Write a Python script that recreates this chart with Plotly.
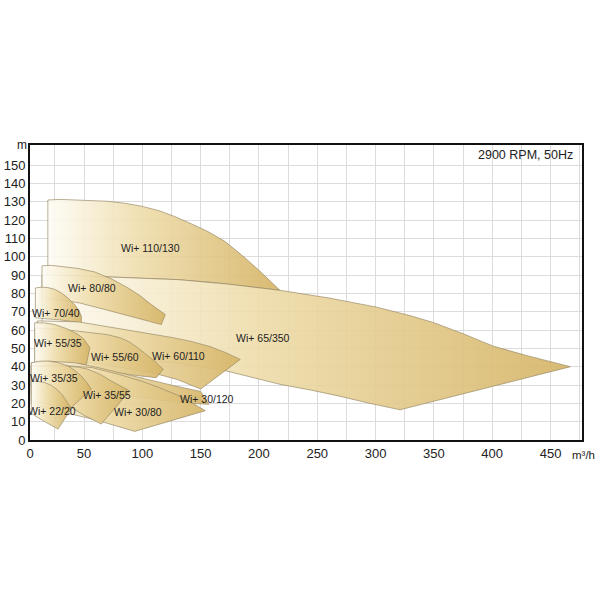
import plotly.graph_objects as go

# ---- pump envelopes (flow m3/h, head m), drawn back to front ----
names = ["Wi+ 110/130", "Wi+ 65/350", "Wi+ 80/80", "Wi+ 70/40", "Wi+ 60/110",
         "Wi+ 55/60", "Wi+ 55/35", "Wi+ 30/120", "Wi+ 30/80", "Wi+ 35/55",
         "Wi+ 35/35", "Wi+ 22/20"]

q_110_130 = [19, 19, 30, 50, 70, 85, 100, 115, 128, 142, 157, 171, 186, 199.5, 210, 218,
             190, 160, 131, 100, 70, 19]
h_110_130 = [89.5, 131, 131.3, 131, 130.3, 129.2, 127.5, 125, 121.9, 118, 113.5, 108.3, 100.5, 92.9, 86.5, 81.7,
             83.8, 86, 87.5, 88.3, 89, 89.5]

q_65_350 = [14, 14, 40, 70, 100, 131, 175, 218, 260, 301, 330, 350, 375, 401, 430, 467,
            321, 295, 270, 245, 218, 195, 172, 150, 130, 80, 14]
h_65_350 = [48, 90, 89.8, 89, 88.4, 87.5, 85, 81.7, 77.5, 72.5, 67.8, 64, 58, 51.2, 46, 40,
            16.5, 20, 23.8, 27.2, 30.4, 34, 37.7, 40, 42, 45, 48]

q_80_80 = [14, 14, 22, 30.5, 45, 59.2, 74, 87.7, 98, 107.7, 114, 119.7,
           116.3, 95, 73.4, 46.3, 30, 14]
h_80_80 = [78, 95.1, 95.3, 94.8, 93.6, 91.7, 87.8, 83, 78.8, 73.9, 71, 68.5,
           63, 66.8, 70.3, 74.8, 76.5, 78]

q_70_40 = [8.3, 8.3, 14, 19, 25, 30.5, 36, 42, 45.5, 47.7, 47.7, 30, 8.3]
h_70_40 = [66.7, 83, 83.4, 83.2, 82.2, 80.3, 77.6, 73.9, 70.8, 67.6, 64, 65.5, 66.7]

q_60_110 = [10, 10, 45, 65, 85, 105, 125, 142, 158, 171, 184,
            150, 130, 107, 85, 64, 10]
h_60_110 = [46, 65, 64.5, 62.4, 60, 58.2, 56, 53.8, 51, 47.8, 44,
            27.8, 33, 37, 39.5, 41.5, 46]

q_55_60 = [8, 8, 30, 55, 70, 81, 89, 96, 104, 111, 118,
           112, 95, 73.4, 40, 8]
h_55_60 = [42, 61, 60.5, 58.5, 57.5, 55.8, 53.5, 50.4, 46.5, 42.8, 38.6,
           34, 35.2, 36.8, 39.5, 42]

q_55_35 = [7.7, 7.7, 16, 25, 35, 45, 50, 53.4, 55, 52, 30, 7.7]
h_55_35 = [42.2, 64, 63.9, 63, 60.8, 57.6, 55, 52.2, 50.4, 41.3, 41.5, 42.2]

q_30_120 = [4.8, 4.8, 20, 42, 64, 85, 107, 128, 150, 157, 140, 125, 100, 80, 4.8]
h_30_120 = [30, 42, 43, 42.2, 39.2, 35.9, 32.6, 29.5, 26.5, 19.5, 20, 21, 23, 25, 30]

q_30_80 = [4.8, 4.8, 30, 57, 80, 100, 115, 130, 142, 154, 93.5, 78, 60, 30, 4.8]
h_30_80 = [20, 40.5, 40.8, 39.5, 35.8, 32, 28.5, 24.5, 20.5, 16, 4.7, 7.5, 11, 15.5, 20]

q_35_55 = [4.8, 4.8, 30, 45, 53.4, 64, 73.4, 81, 89.2, 64.8, 50, 39, 4.8]
h_35_55 = [25, 40, 40.5, 39.8, 38.6, 35.8, 32.2, 29.6, 26.8, 8.7, 13.5, 17.8, 25]

q_35_35 = [4.8, 4.8, 12, 19, 28, 36.3, 42.5, 47.7, 52.5, 56.3, 39.1, 20, 4.8]
h_35_35 = [21.4, 42.2, 43, 43.1, 42.2, 40.4, 37.8, 34.9, 31.3, 27.7, 17.8, 19.5, 21.4]

q_22_20 = [4.8, 4.8, 10, 16, 22, 27, 31.5, 35, 37.5, 38.5, 27.7, 15, 4.8]
h_22_20 = [14.5, 32.2, 32, 31.4, 29.8, 27.5, 24.6, 21.5, 18.8, 16.5, 6, 10.5, 14.5]

# label anchor positions (flow, head)
label_q = [106.7, 203.8, 56.9, 26.3, 130.9, 76.3, 27.7, 155.8, 96.3, 69.7, 24.3, 22.6]
label_h = [104.7, 55.8, 83, 69.4, 45.8, 45.3, 53.1, 22.3, 15.4, 24.6, 33.7, 15.6]

x_tick_vals = [3.7, 50, 100, 150, 200, 250, 300, 350, 400, 450]
x_tick_text = ["0", "50", "100", "150", "200", "250", "300", "350", "400", "450"]
x_grid_vals = list(range(25, 476, 25))
y_tick_vals = list(range(0, 151, 10))

shapes_q = [q_110_130, q_65_350, q_80_80, q_70_40, q_60_110, q_55_60, q_55_35,
            q_30_120, q_30_80, q_35_55, q_35_35, q_22_20]
shapes_h = [h_110_130, h_65_350, h_80_80, h_70_40, h_60_110, h_55_60, h_55_35,
            h_30_120, h_30_80, h_35_55, h_35_35, h_22_20]

grad = [[0.0, "rgba(254,252,245,0.9)"],
        [0.4, "rgba(238,220,170,0.9)"],
        [1.0, "rgba(213,180,102,0.92)"]]

FONT = "Liberation Sans, Arial"

fig = go.Figure()
for nm, qs, hs in zip(names, shapes_q, shapes_h):
    fig.add_trace(go.Scatter(
        x=qs, y=hs, mode="lines", fill="toself", name=nm,
        line=dict(color="rgba(150,135,100,0.75)", width=0.9),
        fillgradient=dict(type="horizontal", colorscale=grad),
        hoverinfo="name", showlegend=False))

for nm, lq, lh in zip(names, label_q, label_h):
    fig.add_annotation(x=lq, y=lh, text=nm, showarrow=False,
                       font=dict(family=FONT, size=10.5, color="#1e1e1e"))

fig.add_annotation(xref="paper", yref="paper", x=0.987, y=0.965, text="2900 RPM, 50Hz",
                   xanchor="right", yanchor="middle", showarrow=False,
                   font=dict(family=FONT, size=12.5, color="#222"))
fig.add_annotation(xref="paper", yref="paper", x=-0.015, y=1.0, text="m",
                   xanchor="center", yanchor="middle", showarrow=False,
                   font=dict(family=FONT, size=12, color="#222"))
fig.add_annotation(xref="paper", yref="paper", x=1.003, y=0, yshift=-15, text="m³/h",
                   xanchor="center", yanchor="middle", showarrow=False,
                   font=dict(family=FONT, size=11.5, color="#222"))

fig.update_xaxes(range=[3.7, 477], tickvals=x_tick_vals, ticktext=x_tick_text,
                 showgrid=False, zeroline=False, showline=True, mirror=True,
                 linecolor="#111", linewidth=2, ticks="", automargin=False,
                 tickfont=dict(family=FONT, size=13, color="#222"),
                 minor=dict(tickvals=x_grid_vals, showgrid=True, gridcolor="#dcdcdc",
                            gridwidth=1, ticks=""))
fig.update_yaxes(range=[0, 161], tickvals=y_tick_vals, showgrid=True,
                 gridcolor="#dcdcdc", gridwidth=1, zeroline=False, showline=True,
                 mirror=True, linecolor="#111", linewidth=2, ticks="", automargin=False,
                 tickfont=dict(family=FONT, size=13, color="#222"))

fig.update_layout(width=600, height=600, plot_bgcolor="white", paper_bgcolor="white",
                  margin=dict(l=30, r=18, t=145, b=160))
fig.write_html("out.html")
